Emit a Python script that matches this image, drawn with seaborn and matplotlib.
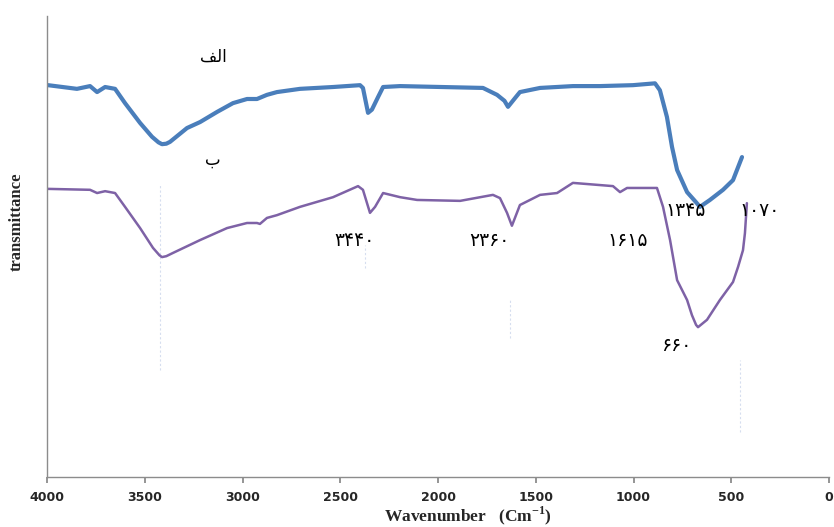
import matplotlib
matplotlib.use('Agg')
import matplotlib.pyplot as plt
import pandas as pd
import seaborn as sns

# wavenumber (cm-1) and transmittance (arbitrary %)
wn_a = [3995, 3847, 3780, 3744, 3703, 3652, 3601, 3524, 3463, 3430, 3412, 3390, 3371,
        3284, 3217, 3130, 3049, 2977, 2926, 2875, 2824, 2706, 2537, 2399, 2384, 2358,
        2338, 2307, 2281, 2194, 1770, 1698, 1660, 1642, 1606, 1581, 1478, 1310, 1171,
        1003, 890, 865, 829, 803, 777, 726, 680, 660, 609, 542, 491, 445]
t_a = [85.0, 84.2, 84.8, 83.5, 84.6, 84.2, 81.1, 76.8, 73.8, 72.6, 72.2, 72.3, 72.7,
       75.7, 77.0, 79.2, 81.1, 82.0, 82.0, 82.9, 83.5, 84.2, 84.6, 85.0, 84.4, 79.0,
       79.7, 82.4, 84.6, 84.8, 84.4, 82.9, 81.6, 80.3, 82.2, 83.5, 84.4, 84.8, 84.8,
       85.0, 85.4, 83.9, 78.1, 71.6, 66.6, 61.8, 59.6, 58.6, 60.1, 62.3, 64.4, 69.4]

wn_b = [3995, 3780, 3744, 3703, 3652, 3601, 3524, 3458, 3425, 3412, 3390, 3356, 3217,
        3079, 2977, 2926, 2911, 2875, 2824, 2706, 2537, 2409, 2384, 2348, 2322, 2281,
        2194, 2107, 1887, 1719, 1683, 1647, 1622, 1581, 1478, 1391, 1310, 1105, 1069,
        1033, 880, 849, 813, 777, 726, 701, 680, 670, 624, 558, 491, 465, 440, 430, 420]
t_b = [62.5, 62.3, 61.6, 62.0, 61.6, 58.6, 54.0, 49.7, 48.1, 47.7, 47.9, 48.6, 51.4,
       54.0, 55.1, 55.1, 54.9, 56.2, 56.8, 58.6, 60.7, 63.1, 62.3, 57.3, 58.6, 61.6,
       60.7, 60.1, 59.9, 61.2, 60.5, 57.3, 54.5, 59.0, 61.2, 61.6, 63.8, 63.1, 61.8,
       62.7, 62.7, 58.6, 51.4, 42.7, 38.4, 35.1, 33.0, 32.5, 34.1, 38.4, 42.3, 45.6,
       49.2, 52.9, 59.4]

# faint guide lines under the peaks (x, y bottom, y top)
guide_x = [3422, 2373, 1632, 455]
guide_lo = [23.2, 45.3, 30.2, 9.8]
guide_hi = [63.3, 50.3, 38.4, 25.4]

# Persian labels (presentation forms so they show joined without shaping)
curve_labels = ['\ufed2\ufedf\ufe8d', '\u0628']
curve_label_x = [3151, 3151]
curve_label_y = [91.1, 68.8]
peak_labels = ['۳۴۴۰', '۲۳۶۰', '۱۶۱۵', '۱۳۴۵', '۱۰۷۰', '۶۶۰']
peak_x = [2425, 1739, 1028, 732, 353, 783]
peak_y = [51.4, 51.4, 51.4, 57.9, 57.9, 28.6]

df_a = pd.DataFrame({'wn': wn_a, 't': t_a})
df_b = pd.DataFrame({'wn': wn_b, 't': t_b})

sns.set_theme(style='white')
plt.rcParams['font.family'] = ['DejaVu Sans']
plt.rcParams['mathtext.fontset'] = 'custom'
plt.rcParams['mathtext.rm'] = 'Liberation Serif'
plt.rcParams['mathtext.bf'] = 'Liberation Serif:bold'

fig = plt.figure(figsize=(8.34, 5.27), dpi=100)
ax = fig.add_axes([0.0564, 0.0949, 0.9376, 0.8747])

ax.vlines(guide_x, guide_lo, guide_hi, colors='#d6deef', linestyles=(0, (2, 2)), linewidth=0.8)

sns.lineplot(data=df_a, x='wn', y='t', sort=False, color='#4a7ebb', linewidth=3.0, ax=ax)
sns.lineplot(data=df_b, x='wn', y='t', sort=False, color='#7e62a6', linewidth=1.8, ax=ax)

for s, x, y in zip(curve_labels, curve_label_x, curve_label_y):
    ax.text(x, y, s, fontsize=12, ha='center', va='center', color='black')
for s, x, y in zip(peak_labels, peak_x, peak_y):
    ax.text(x, y, s, fontsize=13.5, ha='center', va='center', color='black')

ax.set_xlim(4000, 0)
ax.set_ylim(0, 100)
ax.set_xticks([4000, 3500, 3000, 2500, 2000, 1500, 1000, 500, 0])
ax.set_yticks([])
for lab in ax.get_xticklabels():
    lab.set_fontweight('bold')
ax.tick_params(axis='x', labelsize=9, length=4, color='#888888', direction='out', pad=6)
ax.xaxis.set_ticks_position('bottom')

for side in ['top', 'right']:
    ax.spines[side].set_visible(False)
for side in ['left', 'bottom']:
    ax.spines[side].set_color('#8c8c8c')
    ax.spines[side].set_linewidth(1.0)

ax.set_xlabel(r'Wavenumber   (Cm$^{\mathbf{-1}}$)', family='Liberation Serif',
              fontweight='bold', fontsize=12.5)
ax.set_ylabel('transmittance', family='Liberation Serif', fontweight='bold', fontsize=12)
ax.xaxis.set_label_coords(0.538, -0.060)
ax.yaxis.set_label_coords(-0.028, 0.553)

fig.savefig('out.png', dpi=100)
